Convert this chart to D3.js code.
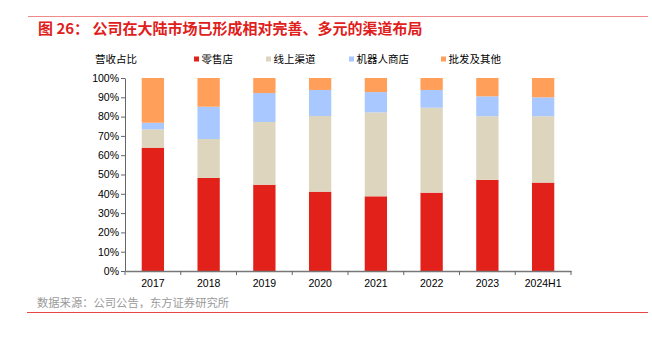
<!DOCTYPE html>
<html>
<head>
<meta charset="utf-8">
<script src="https://cdn.jsdelivr.net/npm/d3@7"></script>
<style>
  body { margin: 0; background: #fff; }
  svg text { font-family: "Liberation Sans", Arial, "Noto Sans CJK SC", sans-serif; }
</style>
</head>
<body>
<div id="chart"></div>
<script>
const years = ["2017", "2018", "2019", "2020", "2021", "2022", "2023", "2024H1"];
const seriesNames = ["零售店", "线上渠道", "机器人商店", "批发及其他"];
const retail = [63.9, 48.2, 44.7, 41.1, 38.7, 40.6, 47.2, 45.8];
const online = [9.5, 20.2, 32.5, 39.2, 43.5, 44.0, 33.0, 34.4];
const robotStore = [3.4, 16.7, 15.0, 13.5, 10.5, 9.2, 10.3, 9.8];
const wholesale = [23.2, 14.9, 7.8, 6.2, 7.3, 6.2, 9.5, 10.0];
const yTicks = [0, 10, 20, 30, 40, 50, 60, 70, 80, 90, 100];
const colors = ["#e2211a", "#ded5bf", "#a8c8ff", "#ff9f5a"];

const W = 652, H = 338;
const margin = {top: 78, right: 81, bottom: 67, left: 125},
    width = W - margin.left - margin.right,
    height = H - margin.top - margin.bottom;

const root = d3.select("#chart").append("svg")
    .attr("width", W)
    .attr("height", H);

// title + rules
root.append("line")
    .attr("x1", 28).attr("x2", 648).attr("y1", 16.5).attr("y2", 16.5)
    .attr("stroke", "#f08a8a").attr("stroke-width", 1.2);

root.append("text")
    .attr("x", 38).attr("y", 33.5)
    .attr("fill", "#e0201b")
    .style("font-size", "15px")
    .style("font-weight", "bold")
    .style("font-family", "'Noto Sans CJK SC', sans-serif")
    .text("图 26：  公司在大陆市场已形成相对完善、多元的渠道布局");

root.append("line")
    .attr("x1", 27).attr("x2", 648).attr("y1", 312.5).attr("y2", 312.5)
    .attr("stroke", "#e84545").attr("stroke-width", 1.2);

root.append("text")
    .attr("x", 37).attr("y", 307)
    .attr("fill", "#9a9a9a")
    .style("font-size", "11.3px")
    .style("font-family", "'Noto Sans CJK SC', sans-serif")
    .text("数据来源：公司公告，东方证券研究所");

const svg = root.append("g")
    .attr("transform", `translate(${margin.left},${margin.top})`);

const rows = years.map((y, i) => ({
    year: y,
    "零售店": retail[i],
    "线上渠道": online[i],
    "机器人商店": robotStore[i],
    "批发及其他": wholesale[i]
}));

const stacked = d3.stack().keys(seriesNames)(rows);

const x = d3.scaleBand()
    .domain(years)
    .range([0, width])
    .paddingInner(0.6)
    .paddingOuter(0.3);

const y = d3.scaleLinear()
    .domain([0, 100])
    .range([height, 0]);

svg.selectAll(".layer")
    .data(stacked)
    .enter().append("g")
    .attr("class", "layer")
    .attr("fill", (d, i) => colors[i])
    .selectAll("rect")
    .data(d => d)
    .enter().append("rect")
    .attr("x", d => x(d.data.year))
    .attr("width", x.bandwidth())
    .attr("y", d => y(Math.min(100, d[1])))
    .attr("height", d => y(d[0]) - y(Math.min(100, d[1])));

// y axis
const yAxis = svg.append("g")
    .call(d3.axisLeft(y).tickValues(yTicks).tickFormat(d => d + "%").tickSize(4).tickSizeOuter(0));
yAxis.select(".domain").attr("stroke", "#666");
yAxis.selectAll(".tick line").attr("stroke", "#666");
yAxis.selectAll("text").style("font-size", "10.5px").attr("fill", "#000").attr("x", -6);

// x axis
const xAxis = svg.append("g")
    .attr("transform", `translate(0,${height})`)
    .call(d3.axisBottom(x).tickSize(0).tickSizeOuter(0));
xAxis.select(".domain").attr("stroke", "#777").attr("stroke-width", 1.4);
xAxis.selectAll("text").style("font-size", "10.5px").attr("fill", "#000").attr("dy", "1.25em");

// category separator ticks
const step = x.step();
const bounds = years.map(d => x(d) - step * 0.3).concat([width]);
svg.append("g").selectAll("line")
    .data(bounds)
    .enter().append("line")
    .attr("x1", d => d).attr("x2", d => d)
    .attr("y1", height).attr("y2", height + 4)
    .attr("stroke", "#666");

// legend
svg.append("text")
    .attr("x", 95 - margin.left).attr("y", 63 - margin.top)
    .style("font-size", "10.5px")
    .style("font-family", "'Noto Sans CJK SC', sans-serif")
    .text("营收占比");

const legendX = [194, 266, 349, 441];
const legend = svg.append("g").selectAll("g")
    .data(seriesNames)
    .enter().append("g")
    .attr("transform", (d, i) => `translate(${legendX[i] - margin.left},${59 - margin.top})`);

legend.append("rect")
    .attr("x", 0).attr("y", -2.5)
    .attr("width", 5).attr("height", 5)
    .attr("fill", (d, i) => colors[i]);

legend.append("text")
    .attr("x", 7.5).attr("y", 4)
    .style("font-size", "10.5px")
    .style("font-family", "'Noto Sans CJK SC', sans-serif")
    .text(d => d);
</script>
</body>
</html>
